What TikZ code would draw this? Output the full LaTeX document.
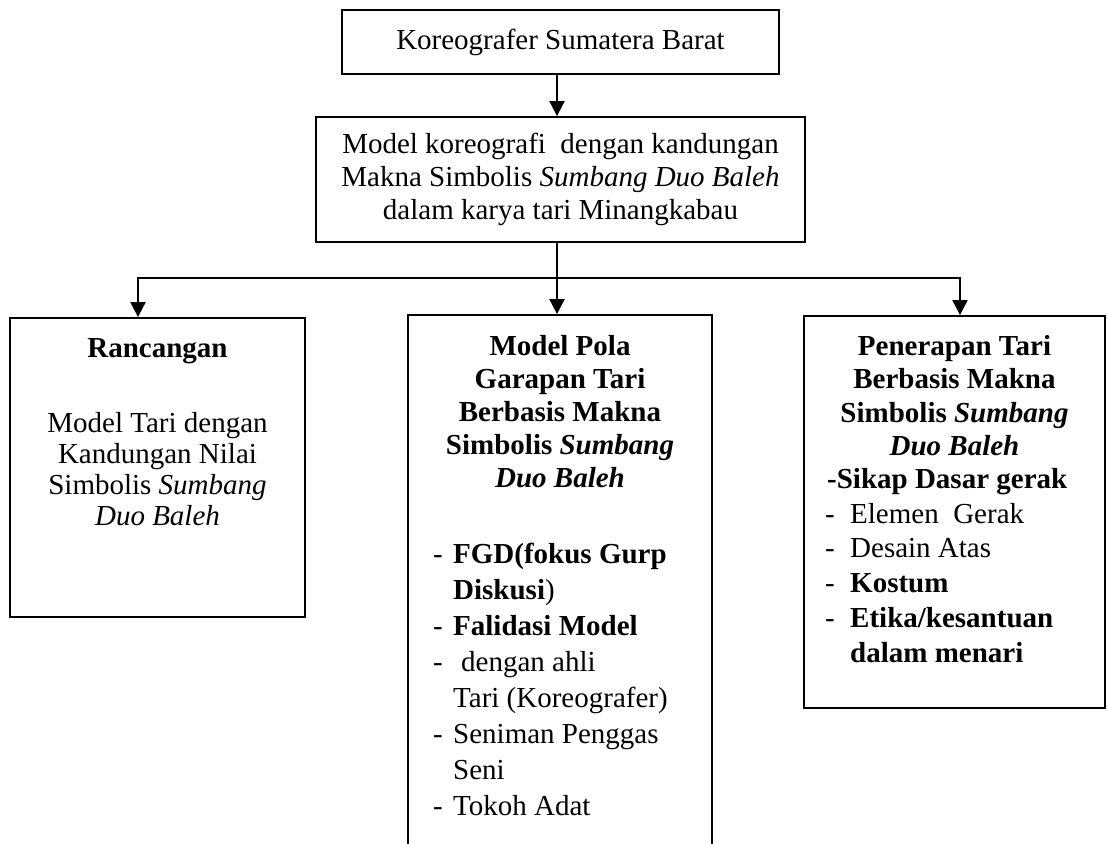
\documentclass[tikz,border=0pt]{standalone}
\usepackage{fontspec}
\setmainfont{Liberation Serif}
\usetikzlibrary{arrows.meta}
\tikzset{
  box/.style={draw, line width=1.8pt, rectangle, inner sep=0pt},
  arr/.style={line width=2pt, -{Triangle[width=15pt,length=15pt]}},
  ln/.style={line width=2pt},
  tc/.style={inner sep=0pt, anchor=base},
  tl/.style={inner sep=0pt, anchor=base west},
}
\begin{document}
\begin{tikzpicture}[x=1pt,y=-1pt,font=\fontsize{29}{33}\selectfont]
\useasboundingbox (0,0) rectangle (1107,843);
\clip (0,0) rectangle (1107,843);
% boxes
\node[box, minimum width=437, minimum height=64] (top) at (560.5,42) {Koreografer Sumatera Barat};
\node[box, minimum width=489, minimum height=125, align=center] (mid) at (560.5,179.5)
  {Model koreografi\ \ dengan kandungan\\Makna Simbolis \textit{Sumbang Duo Baleh}\\dalam karya tari Minangkabau};
\node[box, minimum width=295, minimum height=299] (lbox) at (157.5,467.5) {};
\node[box, minimum width=304, minimum height=585] (cbox) at (560,607.5) {};
\node[box, minimum width=301, minimum height=392] (rbox) at (954.5,512) {};
% connectors
\coordinate (j) at (557,278);
\coordinate (jl) at (138,278);
\coordinate (jr) at (960,278);
\draw[arr] (top.south -| j) -- (mid.north -| j);
\draw[ln] (mid.south -| j) -- (j);
\draw[arr] (j) -- (cbox.north -| j);
\draw[arr] (j) -- (jl) -- (lbox.north -| jl);
\draw[arr] (j) -- (jr) -- (rbox.north -| jr);
% left box text
\node[tc] (l1) at (157.5,357) {\textbf{Rancangan}};
\node[tc] (l2) at (157.5,432) {Model Tari dengan};
\node[tc] (l3) at (157.5,463) {Kandungan Nilai};
\node[tc] (l4) at (157.5,494) {Simbolis \textit{Sumbang}};
\node[tc] (l5) at (157.5,525) {\textit{Duo Baleh}};
% middle box text
\node[tc] (c1) at (560,355) {\textbf{Model Pola}};
\node[tc] (c2) at (560,388) {\textbf{Garapan Tari}};
\node[tc] (c3) at (560,421) {\textbf{Berbasis Makna}};
\node[tc] (c4) at (560,454) {\textbf{Simbolis \textit{Sumbang}}};
\node[tc] (c5) at (560,487) {\textbf{\textit{Duo Baleh}}};
\node[tl] (cd1) at (433,563) {-};
\node[tl] (ct1) at (453,563) {\textbf{FGD(fokus Gurp}};
\node[tl] (ct2) at (453,599) {\textbf{Diskusi})};
\node[tl] (cd3) at (433,635) {-};
\node[tl] (ct3) at (453,635) {\textbf{Falidasi Model}};
\node[tl] (cd4) at (433,671) {-};
\node[tl] (ct4) at (461,671) {dengan ahli};
\node[tl] (ct5) at (453,707) {Tari (Koreografer)};
\node[tl] (cd6) at (433,743) {-};
\node[tl] (ct6) at (453,743) {Seniman Penggas};
\node[tl] (ct7) at (453,779) {Seni};
\node[tl] (cd8) at (433,815) {-};
\node[tl] (ct8) at (453,815) {Tokoh Adat};
% right box text
\node[tc] (r1) at (954.5,355) {\textbf{Penerapan Tari}};
\node[tc] (r2) at (954.5,388) {\textbf{Berbasis Makna}};
\node[tc] (r3) at (954.5,422) {\textbf{Simbolis \textit{Sumbang}}};
\node[tc] (r4) at (954.5,455) {\textbf{\textit{Duo Baleh}}};
\node[tl] (r5) at (827,488) {\textbf{-Sikap Dasar gerak}};
\node[tl] (rd6) at (825,523) {-};
\node[tl] (rt6) at (850,523) {Elemen\ \ Gerak};
\node[tl] (rd7) at (825,557) {-};
\node[tl] (rt7) at (850,557) {Desain Atas};
\node[tl] (rd8) at (825,592) {-};
\node[tl] (rt8) at (850,592) {\textbf{Kostum}};
\node[tl] (rd9) at (825,627) {-};
\node[tl] (rt9) at (850,627) {\textbf{Etika/kesantuan}};
\node[tl] (rt10) at (850,662) {\textbf{dalam menari}};
\end{tikzpicture}
\end{document}
